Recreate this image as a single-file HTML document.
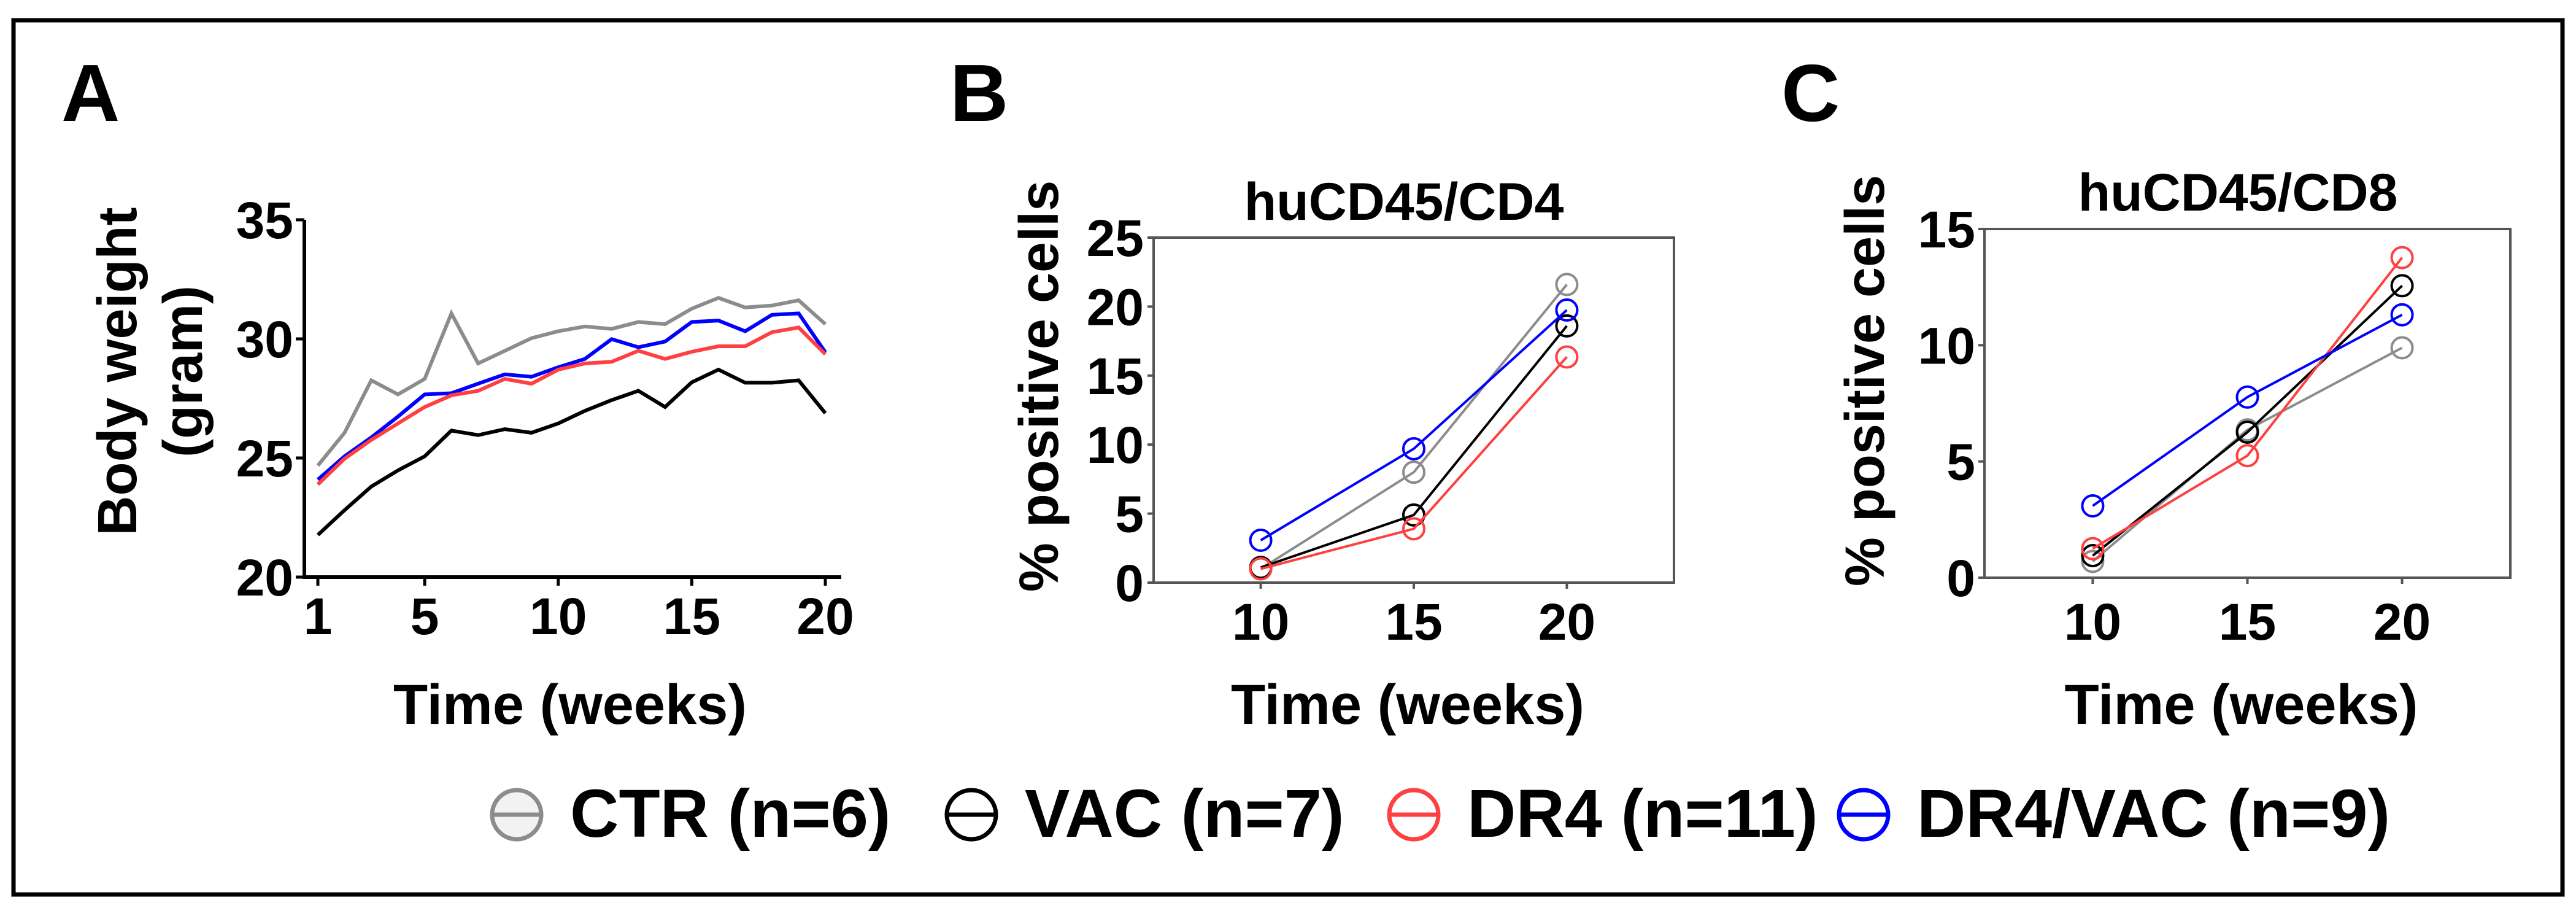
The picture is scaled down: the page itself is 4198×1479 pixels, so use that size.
<!DOCTYPE html>
<html><head><meta charset="utf-8"><style>
html,body{margin:0;padding:0;background:#fff}
svg text{font-family:"Liberation Sans",Arial,sans-serif;font-weight:bold;fill:#000}
</style></head><body>
<svg id="fig" width="4198" height="1474" viewBox="0 0 4198 1474" xmlns="http://www.w3.org/2000/svg">
<rect x="22" y="33" width="4154" height="1424" fill="none" stroke="#000" stroke-width="7"/>
<text x="100" y="197" font-size="132">A</text>
<text x="1548" y="197" font-size="132">B</text>
<text x="2903" y="197" font-size="132">C</text>
<g id="pa"></g>
<g id="pb"></g>
<g id="pc"></g>
<g id="legend"></g>
</svg>
<script>
// Panel A data
const weeksA = [1,2,3,4,5,6,7,8,9,10,11,12,13,14,15,16,17,18,19,20];
const ctrA = [24.68,26.06,28.26,27.67,28.32,31.07,28.97,29.5,30.03,30.32,30.52,30.42,30.71,30.62,31.27,31.72,31.32,31.4,31.62,30.62];
const vacA = [21.77,22.81,23.8,24.48,25.07,26.15,25.96,26.21,26.06,26.45,26.98,27.43,27.82,27.14,28.18,28.71,28.16,28.16,28.26,26.88];
const dr4A = [23.89,24.97,25.76,26.45,27.14,27.63,27.82,28.32,28.12,28.71,28.97,29.04,29.5,29.16,29.46,29.69,29.69,30.28,30.48,29.36];
const drvA = [24.09,25.07,25.86,26.74,27.67,27.72,28.12,28.51,28.41,28.81,29.16,29.99,29.65,29.89,30.71,30.77,30.32,31.01,31.07,29.44];
const yTicksA = [20,25,30,35];
const xTicksA = [1,5,10,15,20];
// Panel B data
const weeksB = [10,15,20];
const ctrB = [1.0,8.0,21.6];
const vacB = [1.1,4.9,18.6];
const dr4B = [1.0,3.9,16.35];
const drvB = [3.07,9.7,19.75];
const yTicksB = [0,5,10,15,20,25];
// Panel C data
const ctrC = [0.7,6.36,9.89];
const vacC = [0.95,6.26,12.56];
const dr4C = [1.25,5.25,13.77];
const drvC = [3.09,7.77,11.31];
const yTicksC = [0,5,10,15];
const xTicksBC = [10,15,20];
const legendLabels = ["CTR (n=6)","VAC (n=7)","DR4 (n=11)","DR4/VAC (n=9)"];

const NS="http://www.w3.org/2000/svg";
const COL={ctr:"#8c8c8c",vac:"#000000",dr4:"#ff4040",drv:"#0000ff"};
function mk(tag,attrs,parent){const e=document.createElementNS(NS,tag);for(const k in attrs)e.setAttribute(k,attrs[k]);parent.appendChild(e);return e;}
function lin(d0,d1,r0,r1){return v=>r0+(v-d0)/(d1-d0)*(r1-r0);}

// ---- Panel A ----
(function(){
  const g=document.getElementById('pa');
  const L=496,R=1371,T=358,B=940;
  const x=lin(1,20,518,1345), y=lin(20,35,B,T);
  let e=mk('line',{x1:L,y1:T,x2:L,y2:B,stroke:'#000','stroke-width':6},g);
  
  
  e=mk('line',{x1:L-3,y1:B,x2:R,y2:B,stroke:'#000','stroke-width':6},g);
  
  
  yTicksA.forEach(v=>{
    const t=mk('line',{x1:L-14,y1:y(v),x2:L,y2:y(v),stroke:'#000','stroke-width':5},g);
    
    
    const tx=mk('text',{x:L-18,y:y(v)+30,'font-size':84,'text-anchor':'end'},g);
    tx.textContent=v;
    
    
  });
  xTicksA.forEach(v=>{
    const t=mk('line',{x1:x(v),y1:B,x2:x(v),y2:B+14,stroke:'#000','stroke-width':5},g);
    
    
    const tx=mk('text',{x:x(v),y:1033,'font-size':84,'text-anchor':'middle'},g);
    tx.textContent=v;
    
    
  });
  [[ctrA,COL.ctr,'ctr'],[drvA,COL.drv,'dr4vac'],[dr4A,COL.dr4,'dr4'],[vacA,COL.vac,'vac']].forEach(([d,c,n])=>{
    const p=mk('polyline',{points:d.map((v,i)=>x(weeksA[i])+','+y(v)).join(' '),fill:'none',stroke:c,'stroke-width':6,'stroke-linejoin':'miter'},g);
    
    
  });
  let tt=mk('text',{x:929,y:1179,'font-size':92,'text-anchor':'middle'},g);
  tt.textContent='Time (weeks)';
  
  
  tt=mk('text',{x:0,y:0,'font-size':90,'text-anchor':'middle',transform:'translate(222,605) rotate(-90)'},g);
  tt.textContent='Body weight';
  
  
  tt=mk('text',{x:0,y:0,'font-size':90,'text-anchor':'middle',transform:'translate(329,605) rotate(-90)'},g);
  tt.textContent='(gram)';
  
  
})();

// ---- Panels B & C ----
function scatterPanel(id,L,R,T,B,ymax,yTicks,series,title,titleX,titleY,ytX,ytY,tickRight){
  const g=document.getElementById(id);
  const x=lin(6.5,23.5,L,R), y=lin(0,ymax,B,T);
  let e=mk('rect',{x:L,y:T,width:R-L,height:B-T,fill:'none',stroke:'#555','stroke-width':4},g);
  
  
  yTicks.forEach(v=>{
    const t=mk('line',{x1:L-10,y1:y(v),x2:L,y2:y(v),stroke:'#555','stroke-width':4},g);
    
    
    const tx=mk('text',{x:tickRight,y:y(v)+30,'font-size':84,'text-anchor':'end'},g);
    tx.textContent=v;
    
    
  });
  xTicksBC.forEach(v=>{
    const t=mk('line',{x1:x(v),y1:B,x2:x(v),y2:B+10,stroke:'#555','stroke-width':4},g);
    
    
    const tx=mk('text',{x:x(v),y:1042,'font-size':84,'text-anchor':'middle'},g);
    tx.textContent=v;
    
    
  });
  series.forEach(([d,c,n])=>{
    const p=mk('polyline',{points:d.map((v,i)=>x(weeksB[i])+','+y(v)).join(' '),fill:'none',stroke:c,'stroke-width':4},g);
    
    
    d.forEach((v,i)=>{
      const m=mk('circle',{cx:x(weeksB[i]),cy:y(v),r:17,fill:'none',stroke:c,'stroke-width':4},g);
      
      
    });
  });
  let tt=mk('text',{x:titleX,y:titleY,'font-size':86,'text-anchor':'middle'},g);
  tt.textContent=title;
  
  
  tt=mk('text',{x:(L+R)/2+ (id==='pb'?-10:-10),y:1179,'font-size':92,'text-anchor':'middle'},g);
  tt.textContent='Time (weeks)';
  
  
  tt=mk('text',{x:0,y:0,'font-size':90,'text-anchor':'middle',transform:'translate('+ytX+','+ytY+') rotate(-90)'},g);
  tt.textContent='% positive cells';
  
  
}
scatterPanel('pb',1880,2728,387,949,25,yTicksB,
  [[ctrB,COL.ctr,'ctr'],[vacB,COL.vac,'vac'],[dr4B,COL.dr4,'dr4'],[drvB,COL.drv,'dr4vac']],
  'huCD45/CD4',2288,358,1724,629,1864);
scatterPanel('pc',3234,4091,373,941,15,yTicksC,
  [[ctrC,COL.ctr,'ctr'],[vacC,COL.vac,'vac'],[dr4C,COL.dr4,'dr4'],[drvC,COL.drv,'dr4vac']],
  'huCD45/CD8',3647,343,3070,620,3219);

// ---- Legend ----
(function(){
  const g=document.getElementById('legend');
  const cols=[COL.ctr,COL.vac,COL.dr4,COL.drv];
  const fills=['#f2f2f2','#fff','#fff','#fff'];
  const cx=[842,1583,2304,3037];
  legendLabels.forEach((lab,i)=>{
    const c=mk('circle',{cx:cx[i],cy:1327,r:40,fill:fills[i],stroke:cols[i],'stroke-width':7},g);
    
    
    const l=mk('line',{x1:cx[i]-40,y1:1327,x2:cx[i]+40,y2:1327,stroke:cols[i],'stroke-width':7},g);
    
    
    const t=mk('text',{x:cx[i]+87,y:1363,'font-size':110},g);
    t.textContent=lab;
    
    
  });
})();
</script>
</body></html>
